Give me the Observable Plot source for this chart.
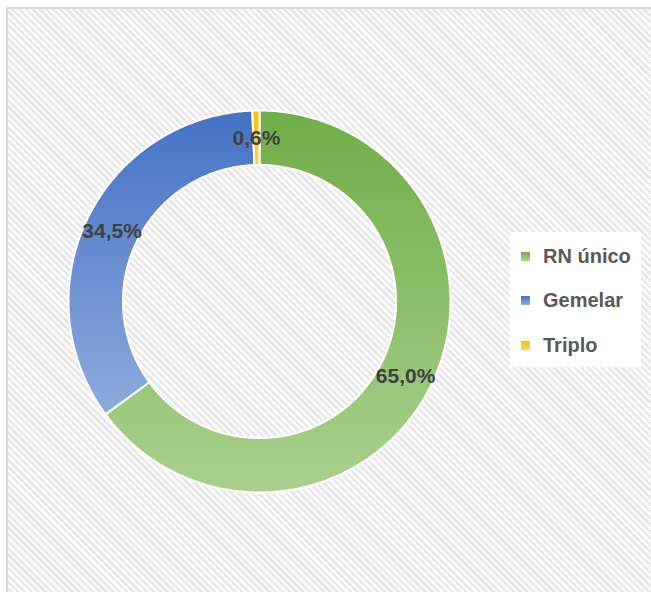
<!DOCTYPE html>
<html><head><meta charset="utf-8">
<script src="https://cdn.jsdelivr.net/npm/d3@7"></script>
<script src="https://cdn.jsdelivr.net/npm/@observablehq/plot@0.6"></script>
<style>
body{margin:0;background:#fff;overflow:hidden}
#wrap{position:relative;width:651px;height:592px;overflow:hidden;background:#fff}
#bg{position:absolute;left:6px;top:7px;width:700px;height:700px;border-top:2px solid #d9d9d9;border-left:2px solid #d9d9d9;
 background:repeating-linear-gradient(45deg,#fbfbfb 0 2.4px,#e8e8e8 2.4px 4.8px)}
#chart{position:absolute;left:0;top:0}
#legend{position:absolute;left:510px;top:232px;width:131px;height:135px;background:#fff;font:bold 20px "Liberation Sans",sans-serif;color:#595959}
.item{position:absolute;left:11px;display:flex;align-items:center;height:24px;margin-top:-12px}
.sw{width:9px;height:9px;margin-right:13px}
</style>
</head><body>
<div id="wrap"><div id="bg"></div><div id="chart"></div><div id="legend"></div></div>
<script>
const categories = ["RN único", "Gemelar", "Triplo"];
const values = [65.0, 34.5, 0.6];
const labels = ["65,0%", "34,5%", "0,6%"];

const topColors = ["#70AD47", "#4472C4", "#FFC000"];
const bottomColors = ["#A9D18E", "#8FAADC", "#FFD24D"];

const inner = 0.715, outer = 1;
const data = categories.map((c, i) => ({category: c, value: values[i], label: labels[i]}));
const arcs = d3.pie().sort(null).value(d => d.value)(data);

// polygon outline of each slice, in unit-circle coordinates (y up)
const pts = [];
arcs.forEach(a => {
  const n = Math.max(2, Math.ceil((a.endAngle - a.startAngle) / 0.01));
  for (let k = 0; k <= n; k++) {
    const t = a.startAngle + (a.endAngle - a.startAngle) * k / n;
    pts.push({category: a.data.category, x: outer * Math.sin(t), y: outer * Math.cos(t)});
  }
  for (let k = n; k >= 0; k--) {
    const t = a.startAngle + (a.endAngle - a.startAngle) * k / n;
    pts.push({category: a.data.category, x: inner * Math.sin(t), y: inner * Math.cos(t)});
  }
});
const mid = (inner + outer) / 2;
const labelPts = arcs.map(a => {
  const t = (a.startAngle + a.endAngle) / 2;
  return {label: a.data.label, x: mid * Math.sin(t), y: mid * Math.cos(t)};
});

const cx = 259, cy = 301, R = 191;
const plot = Plot.plot({
  width: 651, height: 592,
  margin: 0,
  style: {background: "transparent", overflow: "visible"},
  x: {domain: [-1, 1], range: [cx - R, cx + R], axis: null},
  y: {domain: [-1, 1], range: [cy + R, cy - R], axis: null},
  color: {domain: categories, range: categories.map((c, i) => `url(#grad${i})`)},
  marks: [
    Plot.line(pts, {x: "x", y: "y", z: "category", fill: "category", stroke: "#fff", strokeWidth: 2, curve: "linear-closed"}),
    Plot.text(labelPts, {x: "x", y: "y", dy: 1, text: "label", fill: "#404040", fontSize: 21, fontWeight: "bold", fontFamily: "Liberation Sans"})
  ]
});
const svg = d3.select(plot);
const defs = svg.insert("defs", ":first-child");
categories.forEach((c, i) => {
  const g = defs.append("linearGradient").attr("id", `grad${i}`).attr("x1", 0).attr("y1", 0).attr("x2", 0).attr("y2", 1);
  g.append("stop").attr("offset", "0%").attr("stop-color", topColors[i]);
  g.append("stop").attr("offset", "100%").attr("stop-color", bottomColors[i]);
});
document.getElementById("chart").appendChild(plot);

const legend = document.getElementById("legend");
categories.forEach((c, i) => {
  const it = document.createElement("div");
  it.className = "item";
  it.style.top = (24 + i * 44.5) + "px";
  it.innerHTML = `<div class="sw" style="background:linear-gradient(${topColors[i]},${bottomColors[i]})"></div><span>${c}</span>`;
  legend.appendChild(it);
});
</script>
</body></html>
